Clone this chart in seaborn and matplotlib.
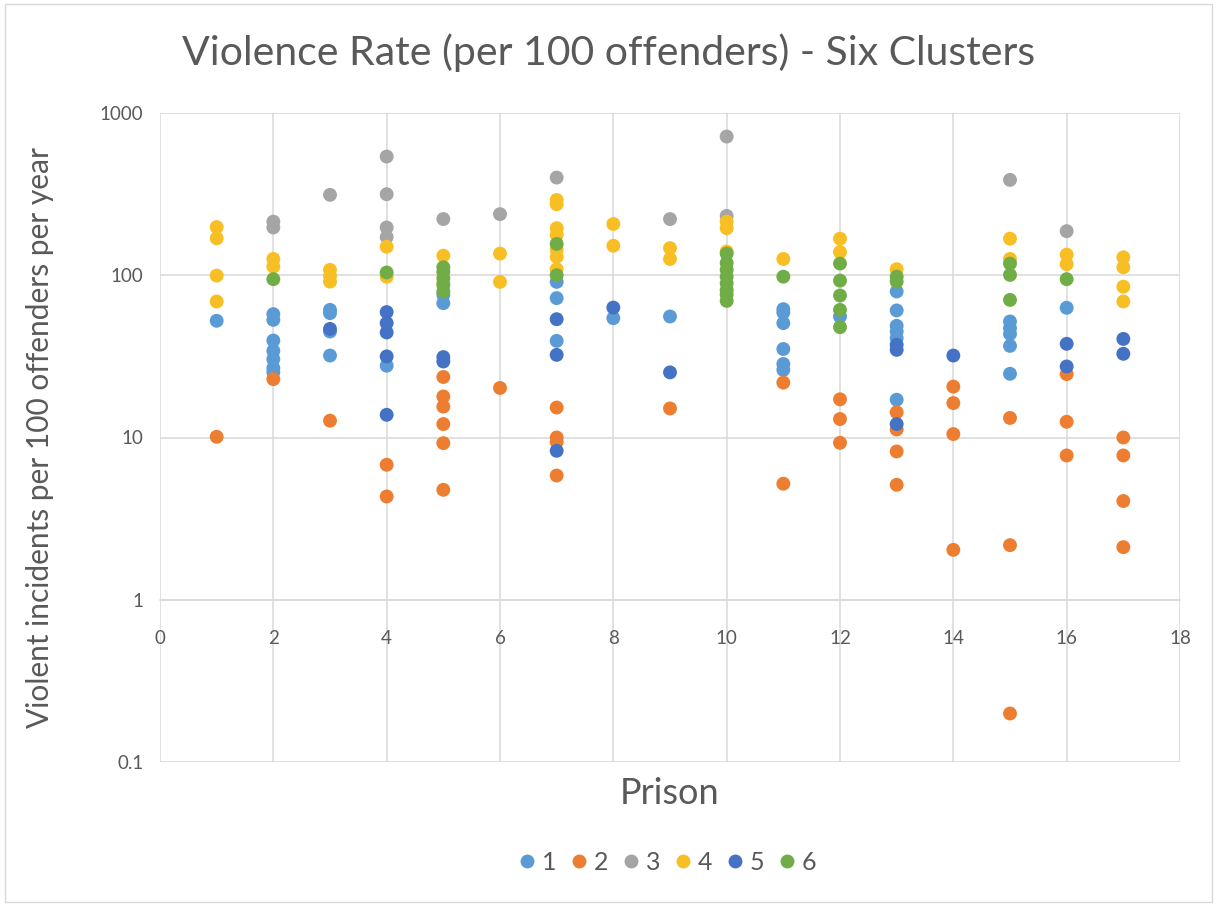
import matplotlib
matplotlib.use("Agg")
import matplotlib.pyplot as plt
import seaborn as sns
import pandas as pd
from matplotlib.patches import Rectangle

# ---- data: (prison, violence rate) per cluster ----
c1_prison = [1, 2, 2, 2, 2, 2, 2, 2, 3, 3, 3, 3, 4, 5, 5, 7, 7, 7, 8, 9,
             11, 11, 11, 11, 11, 11, 12, 13, 13, 13, 13, 13, 13,
             15, 15, 15, 15, 15, 16]
c1_rate = [52.4, 57.6, 53.1, 39.6, 34.2, 30.4, 26.8, 25.2, 61.2, 58.4, 45, 32, 27.7, 75.7, 67.3,
           91, 72.3, 39.4, 54.4, 55.7,
           61.8, 58.9, 50.7, 35.1, 28.4, 26.1, 55.7, 79.4, 60.7, 48.8, 45, 41, 17.1,
           51.9, 47.2, 43.5, 36.7, 24.7, 63]

c2_prison = [1, 2, 3, 4, 4, 5, 5, 5, 5, 5, 5, 6, 7, 7, 7, 7, 9, 11, 11,
             12, 12, 12, 13, 13, 13, 13, 14, 14, 14, 14, 15, 15, 15,
             16, 16, 16, 17, 17, 17, 17]
c2_rate = [10.1, 22.9, 12.7, 6.79, 4.33, 23.6, 17.9, 15.5, 12.1, 9.23, 4.76, 20.2,
           15.3, 10.0, 9.4, 5.83, 15.1, 21.8, 5.19,
           17.2, 13.0, 9.28, 14.3, 11.2, 8.2, 5.11, 20.6, 16.3, 10.5, 2.03, 13.2, 2.17, 0.199,
           24.6, 12.5, 7.75, 10.0, 7.75, 4.06, 2.11]

c3_prison = [2, 2, 3, 4, 4, 4, 4, 5, 6, 7, 9, 10, 10, 15, 16]
c3_rate = [214, 197, 313, 539, 316, 197, 172, 222, 238, 400, 222, 716, 232, 387, 187]

c4_prison = [1, 1, 1, 1, 2, 2, 3, 3, 3, 4, 4, 5, 5, 6, 6, 7, 7, 7, 7, 7, 7, 7,
             8, 8, 9, 9, 10, 10, 10, 11, 12, 12, 13, 15, 15, 16, 16, 17, 17, 17, 17]
c4_rate = [198, 169, 99.5, 68.9, 126, 113, 108, 99, 91.4, 150, 98, 132, 90, 136, 91,
           291, 274, 195, 177, 144, 130, 109,
           207, 152, 147, 126, 214, 195, 140, 126, 168, 139, 109, 168, 126, 134, 117,
           129, 112, 85, 68.9]

c5_prison = [3, 4, 4, 4, 4, 4, 5, 5, 7, 7, 7, 8, 9, 13, 13, 13, 14, 16, 16, 17, 17]
c5_rate = [46.7, 59.3, 50.7, 44.4, 31.6, 13.8, 31.3, 29.4, 53.6, 32.3, 8.28, 63.2, 25.2,
           37.3, 34.7, 12.1, 32, 37.8, 27.4, 40.5, 32.8]

c6_prison = [2, 4, 5, 5, 5, 5, 5, 7, 7, 10, 10, 10, 10, 10, 10, 10, 10, 11,
             12, 12, 12, 12, 12, 13, 13, 15, 15, 15, 16]
c6_rate = [94.6, 104, 112, 105, 96, 87, 79.4, 156, 100, 136, 119, 108, 98, 89, 81, 76, 69.5, 98,
           118, 92.7, 75, 61.2, 47.9, 98, 91.4, 118, 100.5, 70.5, 94.6]

clusters = ["1", "2", "3", "4", "5", "6"]
colors = ["#5B9BD5", "#ED7D31", "#A5A5A5", "#F8BF24", "#4472C4", "#70AD47"]

series = [(c1_prison, c1_rate), (c2_prison, c2_rate), (c3_prison, c3_rate),
          (c4_prison, c4_rate), (c5_prison, c5_rate), (c6_prison, c6_rate)]
rows = []
for name, (px, rv) in zip(clusters, series):
    for p, r in zip(px, rv):
        rows.append({"Prison": p, "Rate": r, "Cluster": name})
df = pd.DataFrame(rows)

sns.set_theme(style="white")
plt.rcParams["font.family"] = ["Lato", "DejaVu Sans"]
txt = "#595959"

fig = plt.figure(figsize=(12.17, 9.06), dpi=100)
ax = fig.add_axes([160 / 1217, 1 - 762 / 906, 1020 / 1217, 649 / 906])

sns.scatterplot(data=df, x="Prison", y="Rate", hue="Cluster", hue_order=clusters,
                palette=colors, s=100, linewidth=0, alpha=1, ax=ax, zorder=3)

ax.set_yscale("log")
ax.set_ylim(0.1, 1000)
ax.set_xlim(0, 18)
ax.set_xticks(range(0, 19, 2))
ax.set_yticks([0.1, 1, 10, 100, 1000])
ax.set_yticklabels(["0.1", "1", "10", "100", "1000"])
ax.minorticks_off()
ax.grid(True, color="#D9D9D9", linewidth=1.1, zorder=0)
ax.set_axisbelow(True)
for s in ["top", "right", "left"]:
    ax.spines[s].set_visible(False)
ax.spines["bottom"].set_position(("data", 1))
ax.spines["bottom"].set_color("#D9D9D9")
ax.spines["bottom"].set_linewidth(1.1)
ax.tick_params(axis="both", length=0, labelsize=13.5, labelcolor=txt)
ax.tick_params(axis="x", pad=22)
ax.tick_params(axis="y", pad=12)

ax.set_xlabel("Prison", fontsize=26, color=txt)
ax.xaxis.set_label_coords(0.5, (762 - 777) / 649)
ax.set_ylabel("Violent incidents per 100 offenders per year", fontsize=21.5, color=txt)
ax.yaxis.set_label_coords((54 - 160) / 1020, 0.5)

fig.text(0.5, 1 - 53 / 906, "Violence Rate (per 100 offenders) - Six Clusters",
         ha="center", va="center", fontsize=29.5, color=txt)

handles, labels = ax.get_legend_handles_labels()
ax.legend(handles, labels, loc="center", bbox_to_anchor=(664 / 1217, 1 - 862 / 906),
          bbox_transform=fig.transFigure, ncol=6, frameon=False, fontsize=18,
          labelcolor=txt, handletextpad=0.0, columnspacing=0.3, markerscale=1.0,
          handlelength=1.2)

fig.patches.append(Rectangle((0.004, 0.004), 0.992, 0.992, transform=fig.transFigure,
                             fill=False, edgecolor="#D9D9D9", linewidth=1))

fig.savefig("out.png", dpi=100)
